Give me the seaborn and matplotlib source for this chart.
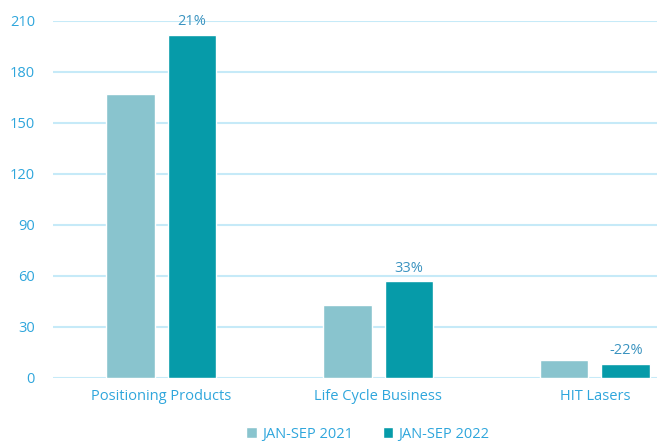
import pandas as pd
import matplotlib.pyplot as plt
import seaborn as sns

# data
categories = ["Positioning Products", "Life Cycle Business", "HIT Lasers"]
periods = ["JAN-SEP 2021", "JAN-SEP 2022"]
values_2021 = [167, 43, 10.6]
values_2022 = [202, 57, 8.3]
change_labels = ["21%", "33%", "-22%"]

df = pd.DataFrame({
    "category": categories * 2,
    "period": [periods[0]] * 3 + [periods[1]] * 3,
    "value": values_2021 + values_2022,
})

sns.set_theme(style="white")
plt.rcParams["font.family"] = ["Open Sans", "DejaVu Sans"]

tick_col = "#2FA6DC"
grid_col = "#C6EAF8"
palette = {periods[0]: "#89C4CE", periods[1]: "#069BA9"}

fig = plt.figure(figsize=(6.57, 4.42), dpi=100)
ax = fig.add_axes([0.0807, 0.1448, 0.9193, 0.8077])

sns.barplot(data=df, x="category", y="value", hue="period", palette=palette,
            width=0.571, gap=0.21, saturation=1, ax=ax, legend=True)

ax.bar_label(ax.containers[1], labels=change_labels, padding=4,
             color="#3A93C0", fontsize=10.5)

ax.set_ylim(0, 210)
ax.set_yticks(range(0, 211, 30))
ax.set_xlim(-0.498, 2.286)
ax.yaxis.grid(True, color=grid_col, linewidth=1.5)
ax.set_axisbelow(True)
for s in ax.spines.values():
    s.set_visible(False)
ax.set_xlabel("")
ax.set_ylabel("")
ax.tick_params(axis="both", length=0, colors=tick_col, labelsize=10.5)
ax.tick_params(axis="y", pad=13)
ax.tick_params(axis="x", pad=8)

handles, labels = ax.get_legend_handles_labels()
ax.get_legend().remove()
leg = fig.legend(handles, labels, loc="lower center", bbox_to_anchor=(0.56, -0.029),
                 ncol=2, frameon=False, fontsize=10.5, handlelength=0.7,
                 handleheight=0.7, handletextpad=0.4, columnspacing=2.0)
for t in leg.get_texts():
    t.set_color(tick_col)

fig.savefig("out.png", dpi=100)
